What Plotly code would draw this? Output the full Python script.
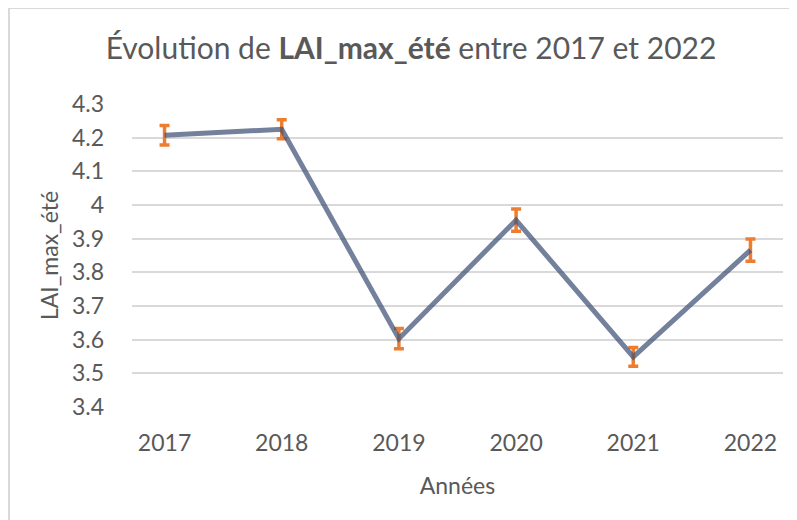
import plotly.graph_objects as go

years = ["2017", "2018", "2019", "2020", "2021", "2022"]
lai_max_ete = [4.207, 4.225, 3.603, 3.955, 3.549, 3.866]
erreur = [0.029, 0.028, 0.030, 0.033, 0.028, 0.033]
y_ticks = [3.4, 3.5, 3.6, 3.7, 3.8, 3.9, 4.0, 4.1, 4.2, 4.3]
y_tick_labels = ["3.4", "3.5", "3.6", "3.7", "3.8", "3.9", "4", "4.1", "4.2", "4.3"]

FONT = "Lato"
TXT = "#595959"

# page body has an 8px margin, so the figure is sized to fit the window
W, H = 789, 512
L, T = 124, 96
PW, PH = 651, 303

fig = go.Figure()
fig.add_trace(go.Scatter(
    x=years, y=lai_max_ete, mode="lines",
    line=dict(color="rgba(62,80,118,0.72)", width=5),
    error_y=dict(type="data", array=erreur, visible=True,
                 color="#ED7D31", thickness=3.5, width=5),
    showlegend=False,
))

fig.update_layout(
    width=W, height=H,
    paper_bgcolor="white", plot_bgcolor="white",
    margin=dict(l=L, r=W - L - PW, t=T, b=H - T - PH),
    font=dict(family=FONT, color=TXT, size=23),
    title=dict(
        text="Évolution de <b>LAI_max_été</b> entre 2017 et 2022",
        x=403 / W, xref="container", xanchor="center",
        y=1 - 40 / H, yref="container", yanchor="middle",
        font=dict(family=FONT, size=30, color=TXT),
    ),
    xaxis=dict(
        type="category", showgrid=False, showline=False, zeroline=False,
        ticks="", ticklabelstandoff=20, automargin=False,
        tickfont=dict(size=23, color=TXT),
        title=dict(text="Années", standoff=22, font=dict(size=23, color=TXT)),
    ),
    yaxis=dict(
        range=[3.4, 4.3], tickvals=y_ticks, ticktext=y_tick_labels,
        showgrid=True, gridcolor="#D9D9D9", gridwidth=1.5, automargin=False,
        zeroline=False, showline=False, ticks="", ticklabelstandoff=27,
        tickfont=dict(size=23, color=TXT),
        title=dict(text="LAI_max_été", standoff=6, font=dict(size=23, color=TXT)),
    ),
    shapes=[dict(type="rect", xref="paper", yref="paper",
                 x0=(1 - L) / PW, x1=1.3, y0=-0.6, y1=1 + (T) / PH,
                 line=dict(color="#D9D9D9", width=2), fillcolor="rgba(0,0,0,0)",
                 layer="below")],
)

fig.write_html("out.html")
